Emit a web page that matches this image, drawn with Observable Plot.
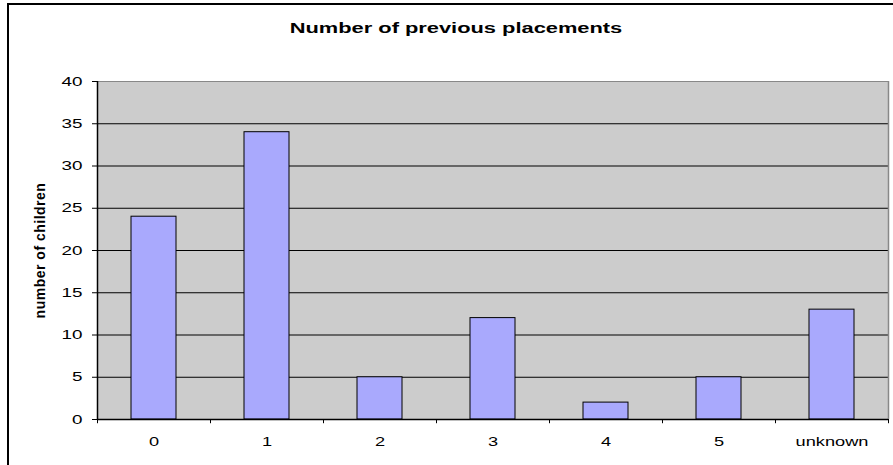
<!DOCTYPE html>
<html>
<head>
<meta charset="utf-8">
<script src="https://cdn.jsdelivr.net/npm/d3@7"></script>
<script src="https://cdn.jsdelivr.net/npm/@observablehq/plot@0.6"></script>
<style>
  html, body { margin: 0; padding: 0; background: #fff; overflow: hidden; }
  #wrap { position: relative; width: 893px; height: 465px; }
  #border { position: absolute; left: 7px; top: 3px; width: 900px; height: 480px;
            border-left: 2px solid #000; border-top: 2px solid #000; box-sizing: border-box; }
  #title { position: absolute; left: 0; width: 912px; top: 20px; text-align: center;
           font: bold 14px "Liberation Sans", Arial, sans-serif; color: #000;
           transform: scaleX(1.56); transform-origin: 456px 50%; }
  svg { position: absolute; left: 0; top: 0; }
</style>
</head>
<body>
<div id="wrap">
  <div id="border"></div>
  <div id="title">Number of previous placements</div>
</div>
<script>
const categories = ["0", "1", "2", "3", "4", "5", "unknown"];
const counts = [24, 34, 5, 12, 2, 5, 13];
const yTicks = [0, 5, 10, 15, 20, 25, 30, 35, 40];
const gridValues = [5, 10, 15, 20, 25, 30, 35];

const data = categories.map((c, i) => ({category: c, count: counts[i]}));

const W = 893, H = 465, mL = 97, mR = 5, mT = 81, mB = 46;
const step = (W - mL - mR) / categories.length;

const chart = Plot.plot({
  width: W,
  height: H,
  marginLeft: mL,
  marginRight: mR,
  marginTop: mT,
  marginBottom: mB,
  style: {fontFamily: "'Liberation Sans', Arial, sans-serif", fontSize: "13px", color: "#000", background: "transparent"},
  x: {domain: categories, paddingInner: 0.6, paddingOuter: 0.3},
  y: {domain: [0, 40]},
  marks: [
    Plot.frame({fill: "#cccccc", stroke: null}),
    Plot.ruleY(gridValues, {stroke: "#000", strokeWidth: 1}),
    Plot.ruleY([40], {stroke: "#888", strokeWidth: 1}),
    Plot.ruleX([categories[categories.length - 1]], {stroke: "#888", strokeWidth: 1.5, dx: step / 2, y1: 0, y2: 40}),
    Plot.barY(data, {x: "category", y: "count", fill: "#a9a9fd", stroke: "#000", strokeWidth: 1}),
    Plot.ruleX([categories[0]], {stroke: "#000", strokeWidth: 1.5, dx: -step / 2, y1: 0, y2: 40}),
    Plot.ruleY([0], {stroke: "#000", strokeWidth: 1.5}),
    Plot.ruleX(categories, {stroke: "#000", dx: -step / 2, y1: 0, y2: -0.5}),
    Plot.ruleX([categories[categories.length - 1]], {stroke: "#000", dx: step / 2, y1: 0, y2: -0.5}),
    Plot.axisY({ticks: yTicks, tickSize: 5, tickPadding: 10, label: "number of children", labelAnchor: "center", labelArrow: "none", labelOffset: 62, fontSize: 13}),
    Plot.axisX({tickSize: 0, tickPadding: 17, label: null, fontSize: 13})
  ]
});

// y-axis title: bold, slightly widened
d3.select(chart).selectAll('[aria-label="y-axis label"] text, [aria-label="y-axis label"]')
  .attr("font-size", 14).style("font-weight", "bold").style("font-size", "14px").style("letter-spacing", "0.5px");

// widen tick labels horizontally (reference glyphs are stretched)
function stretch(sel, s) {
  d3.select(chart).selectAll(sel).each(function() {
    const t = this.getAttribute("transform") || "";
    const x = parseFloat(this.getAttribute("x") || "0") || 0;
    this.setAttribute("transform", `${t} translate(${x},0) scale(${s},1) translate(${-x},0)`);
  });
}
stretch('[aria-label="y-axis tick label"] text', 1.45);
stretch('[aria-label="x-axis tick label"] text', 1.4);

document.getElementById("wrap").appendChild(chart);
</script>
</body>
</html>
